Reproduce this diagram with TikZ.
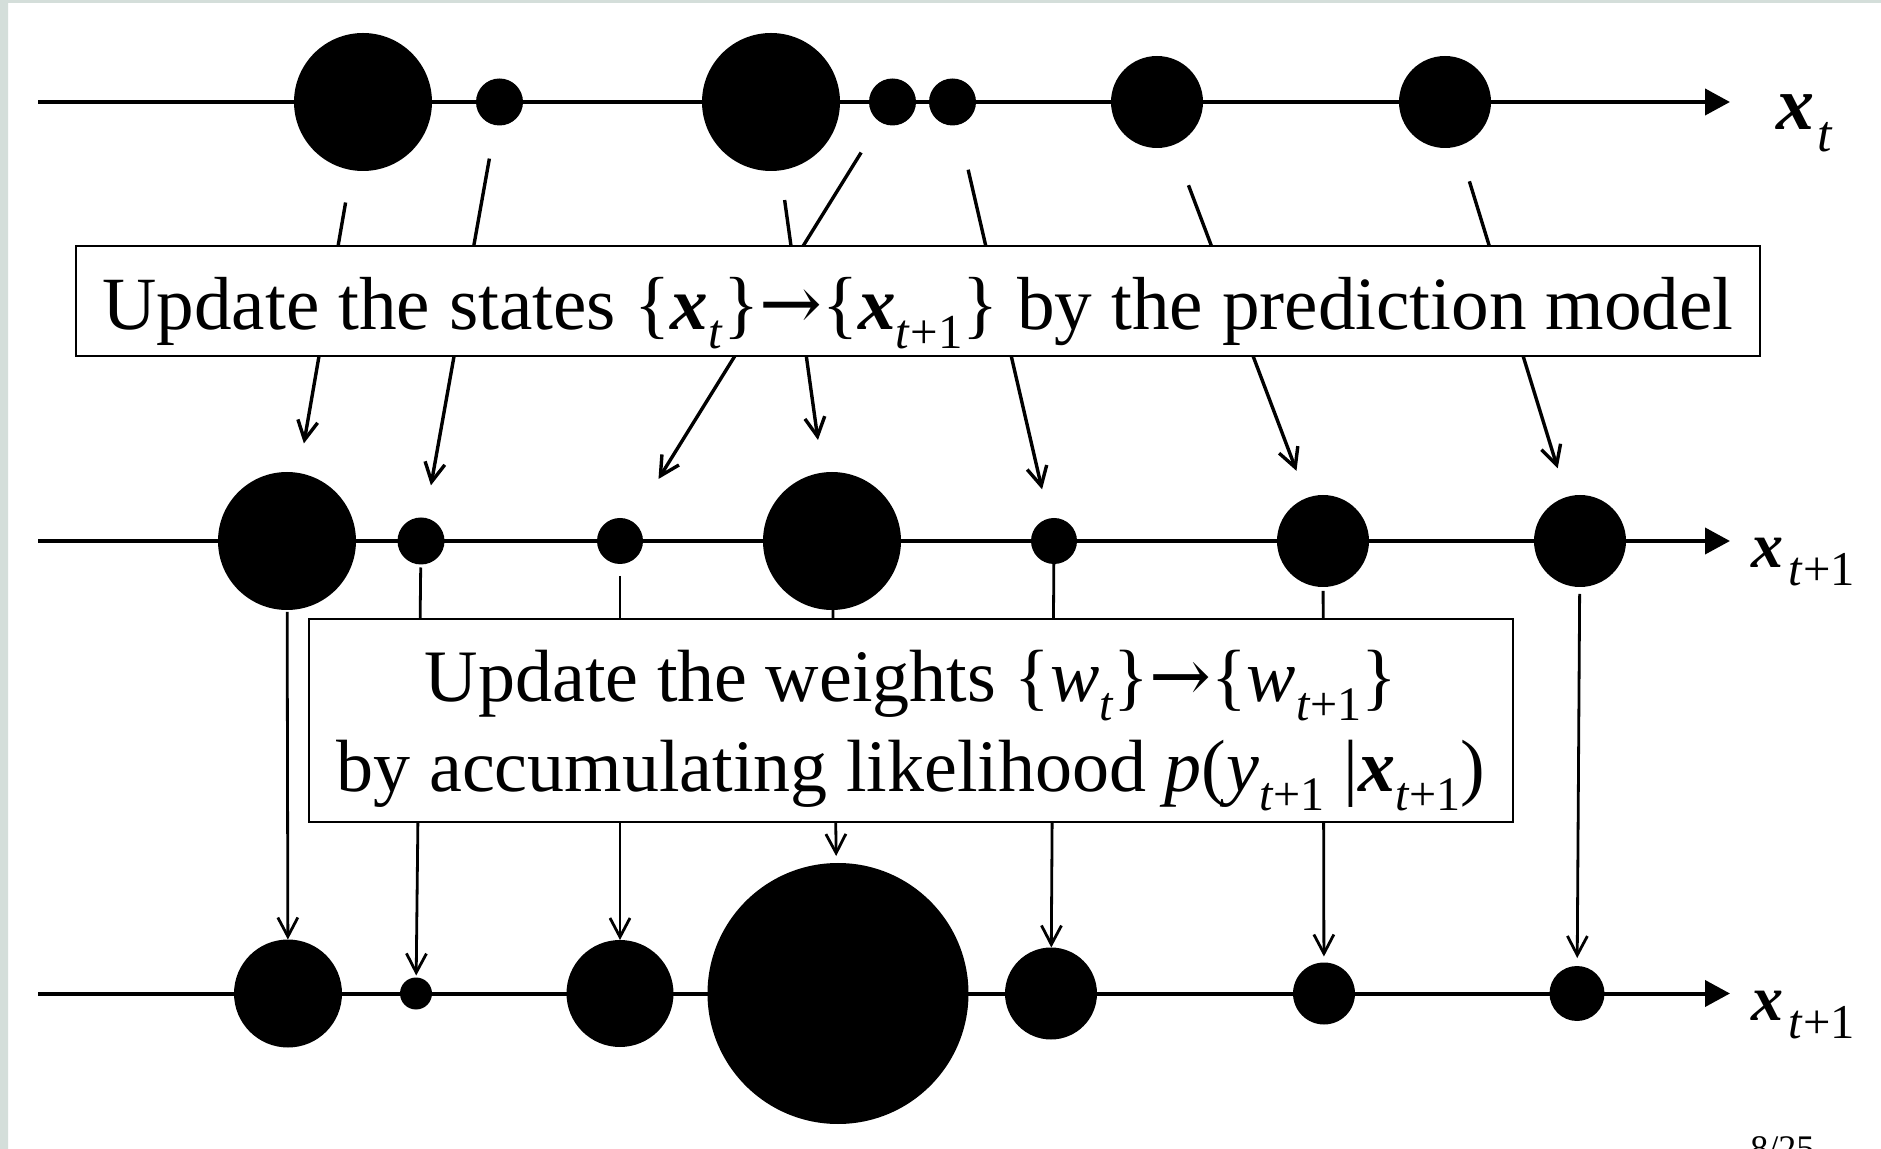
\documentclass[tikz,border=0pt]{standalone}
\usepackage{fontspec}
\setmainfont{Liberation Serif}
\newfontfamily\arrowfont{DejaVu Serif}
\usepackage{graphicx}
\usetikzlibrary{arrows.meta}
\definecolor{slidegrey}{RGB}{212,222,218}
\newcommand{\bfx}{\textbf{\textit{x}}}
\newcommand{\dn}[2][0.65]{\raisebox{-0.25em}{\scalebox{#1}{#2}}}
\newcommand{\ar}{{\arrowfont →}}

\begin{document}
\begin{tikzpicture}[x=0.5pt,y=-0.5pt,>={Straight Barb[length=9.5pt,width=10pt]},font=\fontsize{37}{45}\selectfont,
  dot/.style={circle,fill=black,inner sep=0pt,outer sep=0pt,minimum size=#1pt},
  axis/.style={line width=2pt,-{Triangle[length=12.5pt,width=13pt]}},
  move/.style={line width=1.7pt,->},
  drop/.style={line width=1.4pt,->},
  panel/.style={draw,line width=1pt,fill=white,inner sep=0pt}]
  \useasboundingbox (0,0) rectangle (1881,1149);
  \clip (0,0) rectangle (1881,1149);
  \fill[white] (0,0) rectangle (1881,1149);
  \fill[slidegrey] (0,0) rectangle (8,1149) (0,0) rectangle (1881,3);
  % time axes
  \foreach \n/\y in {old/102,pred/541,new/993.5} {
    \coordinate (\n0) at (38,\y);
    \coordinate (\n8) at (1730,\y);
    \draw[axis] (\n0) -- (\n8);
  }
  % particles, x/radius
  \foreach \x/\r [count=\i] in {363/69,499.5/23.5,771/69,892.5/23.5,952.5/23.5,1157/46,1445/46} {\node[dot=\r] (old\i) at (\x,102) {};}
  \foreach \x/\r [count=\i] in {287/69,421/23.5,620/23,832/69,1054/23,1323/46,1580/46} {\node[dot=\r] (pred\i) at (\x,541) {};}
  \foreach \x/\r [count=\i] in {288/54,416/16,620/53.5,838/130.5,1051/46,1324/31,1577/27.5} {\node[dot=\r] (new\i) at (\x,993.5) {};}
  % prediction step
  \foreach \a/\b/\s/\e in {1/1/16.5/15,2/2/17/16.5,3/4/15/16.5,4/3/18/25,5/5/23/15,6/6/21.5/14.5,7/7/18.5/15}
    {\draw[move,shorten <=\s pt,shorten >=\e pt] (old\a) -- (pred\b);}
  % weighting step
  \foreach \a/\s/\e in {1/1/0,2/1.5/1,3/6/0,4/0/3.5,5/0/0,6/2/3,7/3.5/4}
    {\draw[drop,shorten <=\s pt,shorten >=\e pt] (pred\a) -- (new\a);}
  \node[panel,minimum width=842pt,minimum height=55pt,font=\fontsize{37.6}{45}\selectfont] (predict) at (918,301)
    {\raisebox{-14.5pt}[0pt][0pt]{Update the states \{\bfx\dn{\textit{t}}\}\ar\{\bfx\dn{\textit{t}+1}\} by the prediction model}};
  \node[panel,minimum width=602pt,minimum height=101.5pt] (weight) at (911,720.5)
    {\raisebox{9.25pt}[0pt][0pt]{\begin{tabular}[t]{@{}c@{}}Update the weights \{\textit{w}\dn{\textit{t}}\}\ar\{\textit{w}\dn{\textit{t}+1}\}\\by accumulating likelihood \textit{p}(\textit{y}\dn{\textit{t}+1} |\bfx\dn{\textit{t}+1})\end{tabular}}};
  \node[anchor=base west,inner sep=0pt,font=\fontsize{38}{40}\selectfont] (lblold) at ([shift={(46,28)}]old8) {\bfx\kern0.04em\raisebox{-0.28em}{\scalebox{0.68}{\textit{t}}}};
  \node[anchor=base west,inner sep=0pt,font=\fontsize{32}{36}\selectfont] (lblpred) at ([shift={(21,27)}]pred8) {\bfx\kern0.08em\raisebox{-0.28em}{\scalebox{0.76}{\textit{t}+1}}};
  \node[anchor=base west,inner sep=0pt,font=\fontsize{32}{36}\selectfont] (lblnew) at ([shift={(21,27)}]new8) {\bfx\kern0.08em\raisebox{-0.28em}{\scalebox{0.76}{\textit{t}+1}}};
  \node[anchor=base west,inner sep=0pt,font=\fontsize{18}{20}\selectfont] (pageno) at (1750,1160) {8/25};
\end{tikzpicture}
\end{document}
